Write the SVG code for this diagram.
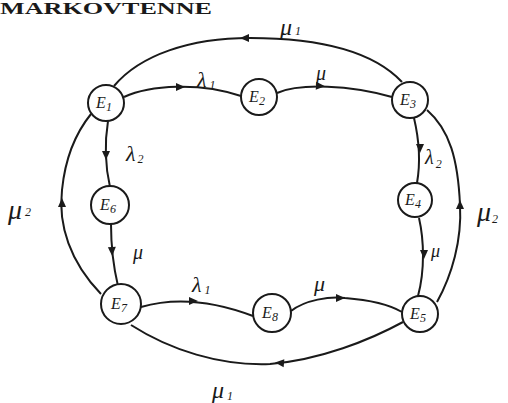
<svg xmlns="http://www.w3.org/2000/svg" xmlns:xlink="http://www.w3.org/1999/xlink" width="508" height="403" viewBox="0 0 508 403">
<style>
.node circle{fill:#fff;stroke:#1a1a1a;stroke-width:2}
.node text{font-family:"Liberation Serif",serif;font-style:italic;font-size:16px;fill:#1a1a1a;text-anchor:middle}
.edge{fill:none;stroke:#1a1a1a;stroke-width:2}
.lbl{font-family:"Liberation Serif",serif;font-style:italic;fill:#1a1a1a}
.sub{font-size:12px}
</style>
<defs>
<path id="ah" d="M5,0 L-4,-4 L-4,4 Z" fill="#1a1a1a"/>
</defs>
<rect width="508" height="403" fill="#fff"/>
<text x="0" y="14" font-family="Liberation Serif,serif" font-weight="bold" font-size="16" textLength="212" lengthAdjust="spacingAndGlyphs" fill="#1a1a1a">MARKOVTENNE</text>

<g id="connectors">
<path class="edge" d="M124,97 C150,85 200,82 241,96"/>
<use xlink:href="#ah" transform="translate(180,87) rotate(0)"/>
<path class="edge" d="M277,93 C300,83 350,85 392,97"/>
<use xlink:href="#ah" transform="translate(320,86) rotate(4)"/>
<path class="edge" d="M402,82 C370,48 310,38 250,38 C190,38 140,55 114,86"/>
<use xlink:href="#ah" transform="translate(245,38) rotate(180)"/>
<path class="edge" d="M108,121 C105,140 105,165 110,187"/>
<use xlink:href="#ah" transform="translate(106,155) rotate(90)"/>
<path class="edge" d="M111,224 C111,245 113,265 118,286"/>
<use xlink:href="#ah" transform="translate(112,251) rotate(88)"/>
<path class="edge" d="M101,294 C70,262 58,225 62,190 C65,160 74,135 91,114"/>
<use xlink:href="#ah" transform="translate(62,203) rotate(-90)"/>
<path class="edge" d="M141,307 C165,300 200,296 253,316"/>
<use xlink:href="#ah" transform="translate(193,301) rotate(0)"/>
<path class="edge" d="M291,311 C305,300 330,296 345,298 C370,300 390,305 402,312"/>
<use xlink:href="#ah" transform="translate(340,298) rotate(0)"/>
<path class="edge" d="M403,322 C370,340 320,360 270,364 C220,366 170,350 131,325"/>
<use xlink:href="#ah" transform="translate(280,363) rotate(185)"/>
<path class="edge" d="M414,118 C418,135 421,160 417,183"/>
<use xlink:href="#ah" transform="translate(420,148) rotate(90)"/>
<path class="edge" d="M419,218 C424,240 425,270 418,296"/>
<use xlink:href="#ah" transform="translate(424,254) rotate(90)"/>
<path class="edge" d="M437,302 C452,275 462,240 460,205 C458,160 450,130 427,110"/>
<use xlink:href="#ah" transform="translate(460,205) rotate(-90)"/>
</g>

<g id="labels">
<text class="lbl" x="197" y="87" font-size="22">λ<tspan class="sub" dy="2" dx="3">1</tspan></text>
<text class="lbl" x="316" y="80" font-size="20">μ</text>
<text class="lbl" x="280" y="35" font-size="24">μ<tspan class="sub" dy="0" dx="3">1</tspan></text>
<text class="lbl" x="126" y="161" font-size="22">λ<tspan class="sub" dy="2" dx="2">2</tspan></text>
<text class="lbl" x="133" y="259" font-size="20">μ</text>
<text class="lbl" x="8" y="219" font-size="28">μ<tspan class="sub" dy="-3" dx="3">2</tspan></text>
<text class="lbl" x="192" y="292" font-size="22">λ<tspan class="sub" dy="2" dx="3">1</tspan></text>
<text class="lbl" x="314" y="291" font-size="22">μ</text>
<text class="lbl" x="212" y="398" font-size="24">μ<tspan class="sub" dy="2" dx="3">1</tspan></text>
<text class="lbl" x="425" y="164" font-size="20">λ<tspan class="sub" dy="4" dx="2">2</tspan></text>
<text class="lbl" x="431" y="257" font-size="18">μ</text>
<text class="lbl" x="477" y="221" font-size="28">μ<tspan class="sub" dy="2" dx="1">2</tspan></text>
</g>

<g id="E1" class="node"><circle cx="106" cy="103" r="18"/><text x="104" y="108">E<tspan class="sub" dy="3">1</tspan></text></g>
<g id="E2" class="node"><circle cx="259" cy="97" r="18"/><text x="257" y="102">E<tspan class="sub" dy="3">2</tspan></text></g>
<g id="E3" class="node"><circle cx="410" cy="100" r="18"/><text x="408" y="105">E<tspan class="sub" dy="3">3</tspan></text></g>
<g id="E4" class="node"><circle cx="415" cy="200" r="17"/><text x="413" y="205">E<tspan class="sub" dy="3">4</tspan></text></g>
<g id="E5" class="node"><circle cx="420" cy="314" r="18"/><text x="418" y="319">E<tspan class="sub" dy="3">5</tspan></text></g>
<g id="E6" class="node"><circle cx="110" cy="205" r="19"/><text x="108" y="210">E<tspan class="sub" dy="3">6</tspan></text></g>
<g id="E7" class="node"><circle cx="121" cy="304" r="20"/><text x="119" y="309">E<tspan class="sub" dy="3">7</tspan></text></g>
<g id="E8" class="node"><circle cx="272" cy="313" r="19"/><text x="270" y="318">E<tspan class="sub" dy="3">8</tspan></text></g>
</svg>
